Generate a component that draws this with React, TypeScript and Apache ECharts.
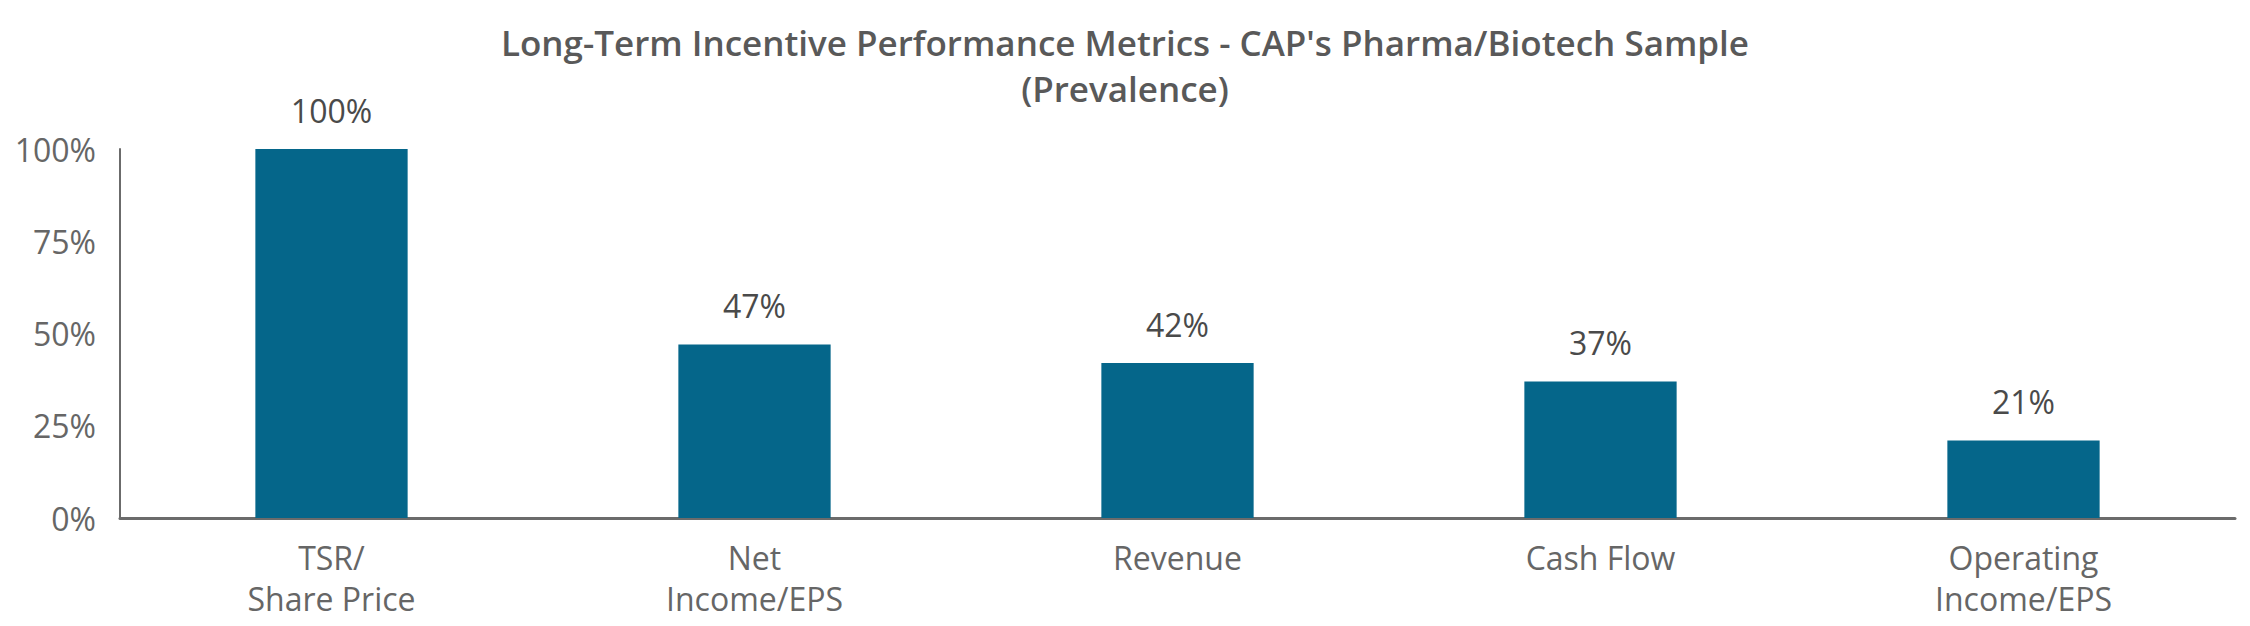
import * as echarts from "echarts";
import { useEffect, useRef } from "react";

const categories = [
  "TSR/\nShare Price",
  "Net\nIncome/EPS",
  "Revenue",
  "Cash Flow",
  "Operating\nIncome/EPS",
];
const prevalence = [100, 47, 42, 37, 21];
const yTicks = { min: 0, max: 100, interval: 25 };

const FONT = "'Open Sans', sans-serif";

export default function App() {
  const chartRef = useRef<HTMLDivElement | null>(null);

  useEffect(() => {
    document.body.style.margin = "0";
    const el = chartRef.current;
    if (!el) return;

    const chart = echarts.init(el, undefined, { renderer: "svg" });

    const option: echarts.EChartsOption = {
      animation: false,
      backgroundColor: "#ffffff",
      title: {
        text: "Long-Term Incentive Performance Metrics - CAP's Pharma/Biotech Sample\n(Prevalence)",
        left: "center",
        top: 14,
        textStyle: {
          fontFamily: FONT,
          fontSize: 35,
          fontWeight: 600,
          color: "#595959",
          lineHeight: 46,
        },
      },
      grid: { left: 120, right: 15, top: 149, bottom: 108 },
      xAxis: {
        type: "category",
        data: categories,
        axisLine: { lineStyle: { color: "#6b6b6b", width: 3 } },
        axisTick: { show: false },
        axisLabel: {
          margin: 19,
          fontFamily: FONT,
          fontSize: 32,
          color: "#666666",
          lineHeight: 41,
        },
      },
      yAxis: {
        type: "value",
        min: yTicks.min,
        max: yTicks.max,
        interval: yTicks.interval,
        splitLine: { show: false },
        axisLine: { show: true, lineStyle: { color: "#6b6b6b", width: 2 } },
        axisTick: { show: false },
        axisLabel: {
          margin: 24,
          fontFamily: FONT,
          fontSize: 32,
          color: "#666666",
          formatter: "{value}%",
        },
      },
      series: [
        {
          type: "bar",
          data: prevalence,
          barWidth: "36%",
          itemStyle: { color: "#05668a" },
          label: {
            show: true,
            position: "top",
            distance: 23,
            formatter: "{c}%",
            fontFamily: FONT,
            fontSize: 32,
            color: "#4a4a4a",
          },
        },
      ],
    };

    chart.setOption(option);

    return () => {
      if (!chart.isDisposed()) chart.dispose();
    };
  }, []);

  return <div ref={chartRef} style={{ width: 2250, height: 626 }} />;
}
